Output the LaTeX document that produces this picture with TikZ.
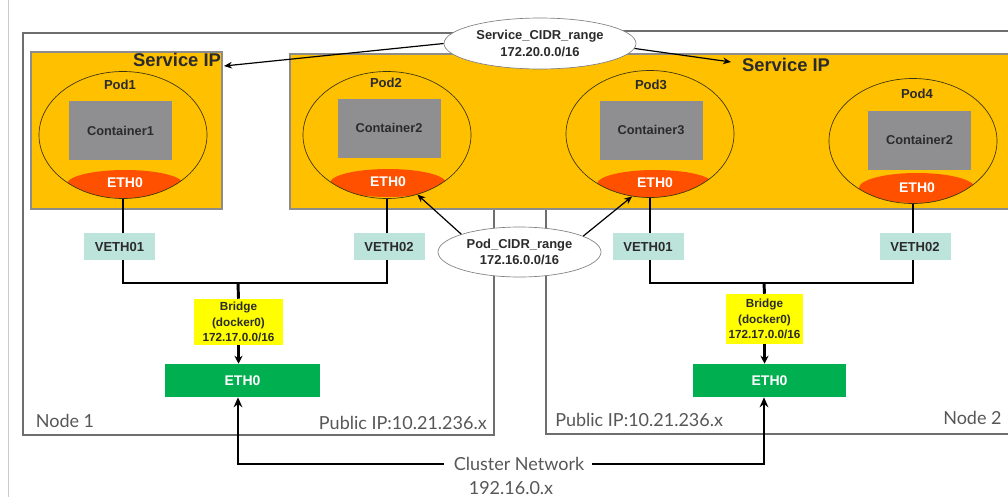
\documentclass[tikz,border=0pt]{standalone}
\usepackage{fontspec}
\setmainfont{Liberation Sans}
\newfontfamily\labelfont{Lato}
\usetikzlibrary{shapes.geometric,arrows.meta}

\definecolor{podorange}{HTML}{FFC000}
\definecolor{boxedge}{HTML}{8C8C8C}
\definecolor{ethred}{HTML}{FF5000}
\definecolor{contgray}{HTML}{8F8F92}
\definecolor{vethteal}{HTML}{BDE4DA}
\definecolor{bridgeyellow}{HTML}{FFFF00}
\definecolor{nicgreen}{HTML}{00B050}
\definecolor{frameline}{HTML}{6E6E6E}
\definecolor{labelgray}{HTML}{575757}
\definecolor{inktext}{HTML}{2B2B2B}
\definecolor{ringline}{HTML}{3A3410}

\tikzset{
  frame/.style={draw=frameline, line width=0.8pt},
  podbox/.style={fill=podorange, draw=boxedge, line width=0.9pt},
  wire/.style={line width=2.2pt, black},
  pointer/.style={line width=0.9pt, black, -{Stealth[length=6pt,width=5pt]}},
  podring/.style={ellipse, draw=ringline, line width=0.5pt, inner sep=0pt,
    minimum width=126pt, minimum height=95.25pt},
  cont/.style={fill=contgray, minimum width=77.25pt, minimum height=44.25pt,
    inner sep=0pt, text=inktext, font=\bfseries\fontsize{9.6}{11}\selectfont},
  veth/.style={fill=vethteal, minimum width=53.25pt, minimum height=20.25pt,
    inner sep=0pt, text=inktext, font=\bfseries\fontsize{9.8}{11}\selectfont},
  bridgebox/.style={fill=bridgeyellow, inner sep=0pt, align=center,
    text=inktext, font=\bfseries\fontsize{8.8}{11.6}\selectfont},
  nic/.style={fill=nicgreen, minimum height=24.75pt, inner sep=0pt,
    text=white, font=\bfseries\fontsize{10.5}{12}\selectfont},
  ethlabel/.style={text=white, inner sep=0pt, font=\bfseries\fontsize{10.5}{12}\selectfont},
  podlabel/.style={text=inktext, inner sep=0pt, font=\bfseries\fontsize{9.8}{11}\selectfont},
  svclabel/.style={text=inktext, inner sep=0pt, font=\bfseries\fontsize{13.8}{16}\selectfont},
  cidr/.style={ellipse, draw=gray, line width=0.5pt, fill=white, inner sep=0pt,
    align=center, text=inktext, font=\bfseries\fontsize{9.7}{12.5}\selectfont},
  graylabel/.style={text=labelgray, inner sep=0pt, font=\labelfont\fontsize{13.5}{16}\selectfont},
}

\begin{document}
\begin{tikzpicture}[x=0.75pt, y=-0.75pt]
\useasboundingbox (0,0) rectangle (1008,497);

% page rule on the left
\draw[black!20, line width=0.8pt] (8.5,0) -- (8.5,497);

% worker node frames
\draw[frame] (23,33) rectangle (494,435);
\draw[frame] (546,31) rectangle (1015,434);

% service IP areas
\draw[podbox] (31,52) rectangle (222,209);
\draw[podbox] (290,54) rectangle (1015,209);

% ETH0 caps at the bottom of each pod
\begin{scope}
  \clip (123,135) ellipse [x radius=84, y radius=63.5];
  \fill[ethred] (125,184) ellipse [x radius=58, y radius=14];
\end{scope}
\begin{scope}
  \clip (387,135) ellipse [x radius=84, y radius=63.5];
  \fill[ethred] (388,183) ellipse [x radius=58, y radius=14];
\end{scope}
\begin{scope}
  \clip (650,134) ellipse [x radius=84, y radius=63.5];
  \fill[ethred] (655,184) ellipse [x radius=58, y radius=14];
\end{scope}
\begin{scope}
  \clip (913,141) ellipse [x radius=84, y radius=62.5];
  \fill[ethred] (917,188) ellipse [x radius=58, y radius=15];
\end{scope}

% pods
\node[podring] (pod1) at (123,135) {};
\node[podring] (pod2) at (387,135) {};
\node[podring] (pod3) at (650,134) {};
\node[podring, minimum height=93.75pt] (pod4) at (913,141) {};

\node[podlabel] (pl1) at (120,85) {Pod1};
\node[podlabel] (pl2) at (386,83) {Pod2};
\node[podlabel] (pl3) at (651,85) {Pod3};
\node[podlabel] (pl4) at (917,94) {Pod4};

\node[cont] (c1) at (120.5,130.5) {Container1};
\node[cont] (c2) at (389,128) {Container2};
\node[cont] (c3) at (651,130) {Container3};
\node[cont] (c4) at (919.5,140) {Container2};

\node[ethlabel] (e1) at (125,183) {ETH0};
\node[ethlabel] (e2) at (388,182) {ETH0};
\node[ethlabel] (e3) at (655,183) {ETH0};
\node[ethlabel] (e4) at (917,188) {ETH0};

\node[svclabel] (sip1) at (177,60) {Service IP};
\node[svclabel] (sip2) at (786,65) {Service IP};

% pod wiring to the bridges
\coordinate (j1) at (238,283);
\coordinate (j2) at (764,283);
\draw[wire] (pod1.south) -- (pod1.south |- j1) -- (pod2.south |- j1) -- (pod2.south);
\draw[wire] (pod3.south) -- (pod3.south |- j2) -- (pod4.south |- j2) -- (pod4.south);

\node[veth] (v11) at (119.5,246.5) {VETH01};
\node[veth] (v12) at (389,246.5) {VETH02};
\node[veth] (v21) at (648,246.5) {VETH01};
\node[veth] (v22) at (915,246.5) {VETH02};

\node[bridgebox, minimum width=66.75pt, minimum height=34.5pt] (br1) at (238.5,322)
  {Bridge\\(docker0)\\172.17.0.0/16};
\node[bridgebox, minimum width=57.75pt, minimum height=37.5pt] (br2) at (764.5,319)
  {Bridge\\(docker0)\\172.17.0.0/16};
\draw[wire] (j1) -- (br1.north);
\draw[wire] (j2) -- (br2.north);

\node[nic, minimum width=116.25pt] (nic1) at (242.5,380.5) {ETH0};
\node[nic, minimum width=114.75pt] (nic2) at (769.5,380.5) {ETH0};
\draw[line width=1.6pt, -{Stealth[length=6pt,width=6pt]}] (br1.south) -- (nic1.north -| br1.south);
\draw[line width=1.6pt, -{Stealth[length=6pt,width=6pt]}] (br2.south) -- (nic2.north -| br2.south);

% node captions
\node[graylabel] (n1) at (65,421) {Node 1};
\node[graylabel, anchor=east] (pub1) at (487,423) {Public IP:10.21.236.x};
\node[graylabel, anchor=west] (pub2) at (555,420) {Public IP:10.21.236.x};
\node[graylabel, anchor=west] (n2) at (943,418) {Node 2};

% cluster network
\node[graylabel] (cn) at (519,464) {Cluster Network};
\node[graylabel] (cnip) at (511,488) {192.16.0.x};
\draw[wire, -{Stealth[length=7.5pt,width=6.5pt]}] ([xshift=-7.5pt]cn.west) -| (j1 |- nic1.south);
\draw[wire, -{Stealth[length=7.5pt,width=6.5pt]}] ([xshift=5.5pt]cn.east) -| (j2 |- nic2.south);

% CIDR ranges
\node[cidr, minimum width=144pt, minimum height=38.25pt] (svc) at (540,43.5)
  {Service\_CIDR\_range\\172.20.0.0/16};
\node[cidr, minimum width=122.25pt, minimum height=37.5pt] (pcidr) at (519.5,252)
  {Pod\_CIDR\_range\\172.16.0.0/16};

\coordinate (sipL) at (224,66);
\coordinate (sipR) at (731,62);
\draw[pointer] (svc.west) -- (sipL);
\draw[pointer] (svc.-3) -- (sipR);
\draw[pointer] (pcidr.163) -- (pod2.-63);
\draw[pointer] (pcidr.14) -- (pod3.-106);
\end{tikzpicture}
\end{document}
